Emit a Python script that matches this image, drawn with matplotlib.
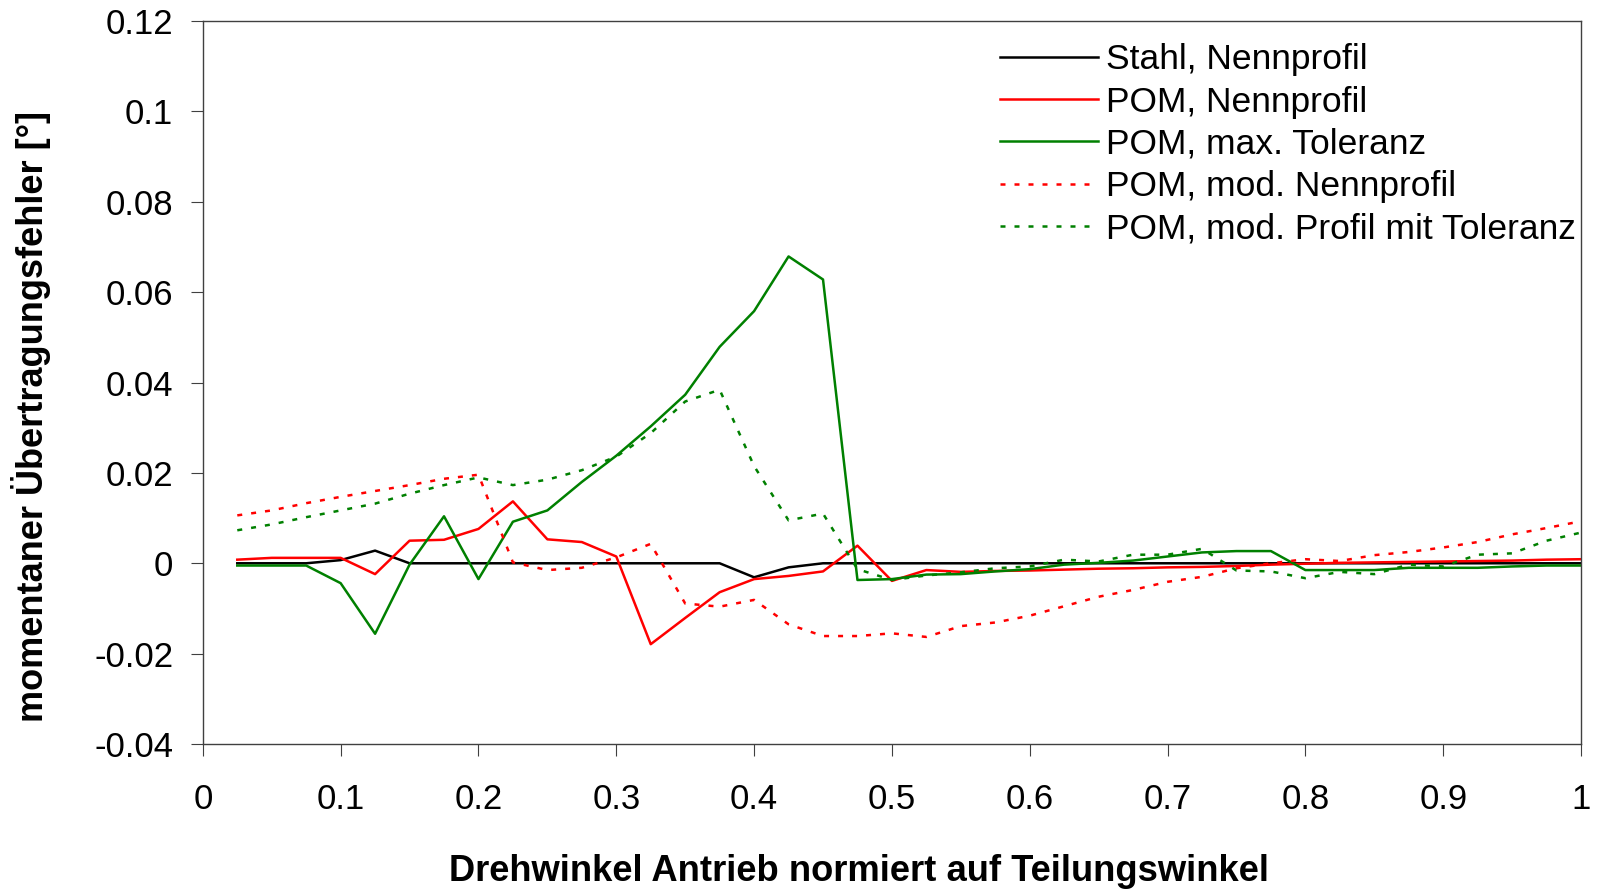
import matplotlib.pyplot as plt
import numpy as np

# Drehwinkel (normiert), Schrittweite 0.025
x = np.arange(1, 41) * 0.025

stahl_nenn = [0, 0, 0, 0.0007, 0.0028, 0, 0, 0, 0, 0,
              0, 0, 0, 0, 0, -0.0031, -0.0009, 0, 0, 0,
              0, 0, 0, 0, 0, 0, 0, 0, 0, 0,
              0, 0, 0, 0, 0, 0, 0, 0, 0, 0]

pom_nenn = [0.0008, 0.0012, 0.0012, 0.0012, -0.0024, 0.0050, 0.0052, 0.0076, 0.0137, 0.0053,
            0.0047, 0.0015, -0.0179, -0.0121, -0.0064, -0.0035, -0.0028, -0.0018, 0.0039, -0.0039,
            -0.0015, -0.0019, -0.0017, -0.0016, -0.0014, -0.0012, -0.0011, -0.0009, -0.0008, -0.0006,
            -0.0003, -0.0001, 0.0001, 0.0002, 0.0003, 0.0004, 0.0005, 0.0006, 0.0008, 0.0009]

pom_max_tol = [-0.0005, -0.0005, -0.0005, -0.0044, -0.0156, -0.0003, 0.0104, -0.0035, 0.0092, 0.0117,
               0.0180, 0.0238, 0.0303, 0.0373, 0.0479, 0.0558, 0.0679, 0.0628, -0.0037, -0.0035,
               -0.0025, -0.0024, -0.0018, -0.0013, -0.0003, 0.0001, 0.0006, 0.0015, 0.0024, 0.0027,
               0.0027, -0.0015, -0.0015, -0.0015, -0.0010, -0.0010, -0.0010, -0.0007, -0.0005, -0.0005]

pom_mod_nenn = [0.0106, 0.0117, 0.0133, 0.0147, 0.0160, 0.0173, 0.0187, 0.0196, 0.0002, -0.0015,
                -0.0010, 0.0013, 0.0043, -0.0089, -0.0096, -0.0081, -0.0135, -0.0161, -0.0161, -0.0155,
                -0.0163, -0.0139, -0.0131, -0.0116, -0.0095, -0.0074, -0.0059, -0.0041, -0.0030, -0.0011,
                0.0000, 0.0009, 0.0005, 0.0018, 0.0025, 0.0035, 0.0047, 0.0064, 0.0078, 0.0093]

pom_mod_tol = [0.0073, 0.0086, 0.0102, 0.0117, 0.0132, 0.0154, 0.0173, 0.0190, 0.0173, 0.0185,
               0.0206, 0.0236, 0.0288, 0.0358, 0.0384, 0.0215, 0.0095, 0.0110, -0.0013, -0.0037,
               -0.0027, -0.0020, -0.0011, -0.0007, 0.0008, 0.0004, 0.0019, 0.0019, 0.0032, -0.0016,
               -0.0018, -0.0033, -0.0019, -0.0024, -0.0003, -0.0007, 0.0019, 0.0022, 0.0050, 0.0068]

labels = ["Stahl, Nennprofil", "POM, Nennprofil", "POM, max. Toleranz",
          "POM, mod. Nennprofil", "POM, mod. Profil mit Toleranz"]

x_ticks = [0, 0.1, 0.2, 0.3, 0.4, 0.5, 0.6, 0.7, 0.8, 0.9, 1]
x_ticklabels = ["0", "0.1", "0.2", "0.3", "0.4", "0.5", "0.6", "0.7", "0.8", "0.9", "1"]
y_ticks = [-0.04, -0.02, 0, 0.02, 0.04, 0.06, 0.08, 0.1, 0.12]
y_ticklabels = ["-0.04", "-0.02", "0", "0.02", "0.04", "0.06", "0.08", "0.1", "0.12"]

plt.rcParams['font.family'] = ['Liberation Sans', 'DejaVu Sans']

fig, ax = plt.subplots(figsize=(15.97, 8.9), dpi=100)
fig.subplots_adjust(left=0.127, right=0.990, top=0.9764, bottom=0.164)

lw = 1.8
dotted = (0, (2.0, 3.6))
ax.plot(x, stahl_nenn, color='black', lw=lw, label=labels[0])
ax.plot(x, pom_nenn, color='#ff0000', lw=lw, label=labels[1])
ax.plot(x, pom_max_tol, color='#008000', lw=lw, label=labels[2])
ax.plot(x, pom_mod_nenn, color='#ff0000', lw=lw, ls=dotted, label=labels[3])
ax.plot(x, pom_mod_tol, color='#008000', lw=lw, ls=dotted, label=labels[4])

ax.set_xlim(0, 1)
ax.set_ylim(-0.04, 0.12)
ax.set_xticks(x_ticks)
ax.set_xticklabels(x_ticklabels)
ax.set_yticks(y_ticks)
ax.set_yticklabels(y_ticklabels)

for sp in ax.spines.values():
    sp.set_color('#404040')
    sp.set_linewidth(1.0)
ax.tick_params(axis='both', direction='out', length=8.8, width=0.8, color='#404040',
               labelsize=25, labelcolor='black')
ax.tick_params(axis='x', pad=19.5)
ax.tick_params(axis='y', pad=12.5)

fig.text(859 / 1597, 1 - 881 / 890, "Drehwinkel Antrieb normiert auf Teilungswinkel",
         ha='center', va='baseline', fontsize=26.2, fontweight='bold')
fig.text(31 / 1597, 1 - 416 / 890, "momentaner Übertragungsfehler [°]",
         ha='center', va='center', rotation=90, fontsize=26, fontweight='bold')

ax.legend(loc='upper right', bbox_to_anchor=(0.9966, 0.969), frameon=False,
          fontsize=25.5, handlelength=2.75, handletextpad=0.25, labelspacing=0.26,
          borderpad=0, borderaxespad=0)

fig.savefig("out.png", dpi=100)
